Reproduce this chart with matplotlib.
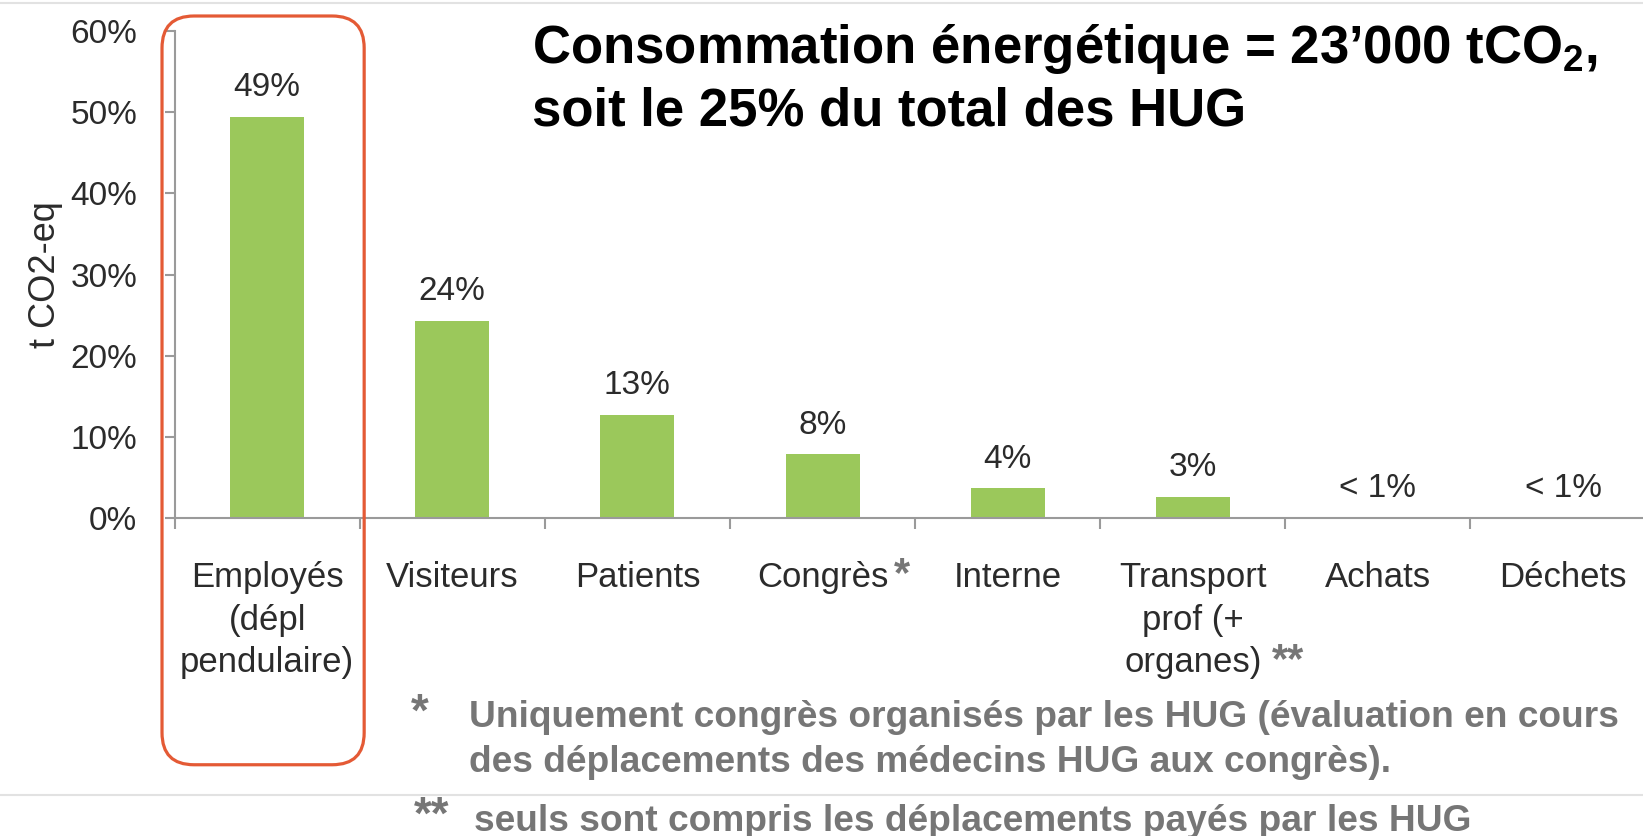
import numpy as np
import matplotlib
matplotlib.use("Agg")
import matplotlib.pyplot as plt
from matplotlib.patches import FancyBboxPatch
from matplotlib.lines import Line2D
from matplotlib.transforms import IdentityTransform

plt.rcParams['font.family'] = ['Liberation Sans', 'DejaVu Sans']
plt.rcParams['mathtext.fontset'] = 'custom'
plt.rcParams['mathtext.rm'] = 'Liberation Sans'
plt.rcParams['mathtext.bf'] = 'Liberation Sans:bold'

# données
categories = ["Employés\n(dépl\npendulaire)", "Visiteurs", "Patients", "Congrès",
              "Interne", "Transport\nprof (+\norganes)", "Achats", "Déchets"]
shares = [49.4, 24.3, 12.7, 7.8, 3.6, 2.6, 0, 0]
value_labels = ["49%", "24%", "13%", "8%", "4%", "3%", "< 1%", "< 1%"]
yticks = [0, 10, 20, 30, 40, 50, 60]
marks = {3: "*", 5: "**"}
highlight = 0

W, H = 1643, 836
GREEN = "#9BC85B"
AXIS = "#9a9a9a"
TXT = "#2b2b2b"
NOTE = "#767676"
RED = "#E45A35"

def fx(x):
    return x / W

def fy(y):
    return 1 - y / H

fig = plt.figure(figsize=(W / 100, H / 100), dpi=100)
ax = fig.add_axes([fx(174.6), fy(517.6), 1481 / W, (517.6 - 31.4) / H])

x = np.arange(len(categories))
ax.bar(x, shares, width=0.4, color=GREEN, zorder=2)
ax.set_xlim(-0.5, len(categories) - 0.5)
ax.set_ylim(0, 60)

for xi, v, lab in zip(x, shares, value_labels):
    ax.annotate(lab, (xi, v), xytext=(0, 15), textcoords="offset points",
                ha="center", va="baseline", fontsize=24, color=TXT)

ax.set_yticks(yticks)
ax.set_yticklabels([f"{t}%" for t in yticks])
ax.set_xticks(x)
ax.set_xticklabels(categories)
ax.set_xticks(np.arange(len(categories) + 1) - 0.5, minor=True)
ax.tick_params(axis="x", which="major", length=0, pad=31, labelsize=25,
               labelcolor=TXT)
ax.tick_params(axis="x", which="minor", length=8, width=1.5, color=AXIS,
               direction="out")
ax.tick_params(axis="y", length=7, width=1.5, color=AXIS, pad=20,
               labelsize=24, labelcolor=TXT)
for lab in ax.get_xticklabels():
    lab.set_linespacing(1.38)

for s in ["top", "right"]:
    ax.spines[s].set_visible(False)
for s in ["left", "bottom"]:
    ax.spines[s].set_color(AXIS)
    ax.spines[s].set_linewidth(1.5)

ax.set_ylabel("t CO2-eq", fontsize=26, color=TXT, labelpad=5)

# astérisques après les étiquettes
ticklabels = ax.get_xticklabels()
for i, m in marks.items():
    ax.annotate(m, xy=(1, 0), xycoords=ticklabels[i], xytext=(4, 5.5),
                textcoords="offset points", ha="left", va="baseline",
                fontsize=30, fontweight="bold", color=NOTE)

# cadre rouge autour de la première catégorie
fig.canvas.draw()
(x0, y0) = ax.transData.transform((highlight - 0.568, -30.5))
(x1, y1) = ax.transData.transform((highlight + 0.524, 61.9))
box = FancyBboxPatch((x0, y0), x1 - x0, y1 - y0,
                     boxstyle="round,pad=0,rounding_size=32",
                     transform=IdentityTransform(), fill=False,
                     edgecolor=RED, linewidth=2.3, clip_on=False, zorder=5)
fig.add_artist(box)

# titre
fig.text(fx(532), fy(63), "Consommation énergétique = 23’000 tCO$_\\mathbf{2}$,",
         fontsize=38, fontweight="bold", color="black", va="baseline")
fig.text(fx(532), fy(126), "soit le 25% du total des HUG",
         fontsize=38, fontweight="bold", color="black", va="baseline")

# notes
fig.text(fx(411), fy(726), "*", fontsize=33, fontweight="bold", color=NOTE,
         va="baseline")
fig.text(fx(469), fy(727), "Uniquement congrès organisés par les HUG (évaluation en cours",
         fontsize=26.7, fontweight="bold", color=NOTE, va="baseline")
fig.text(fx(469), fy(772), "des déplacements des médecins HUG aux congrès).",
         fontsize=26.7, fontweight="bold", color=NOTE, va="baseline")
fig.text(fx(414), fy(829), "**", fontsize=33, fontweight="bold", color=NOTE,
         va="baseline")
fig.text(fx(474), fy(831), "seuls sont compris les déplacements payés par les HUG",
         fontsize=26.7, fontweight="bold", color=NOTE, va="baseline")

# filets de la diapositive
fig.add_artist(Line2D([0, 1], [fy(3), fy(3)], color="#e2e2e2", lw=1.5,
                      transform=fig.transFigure))
fig.add_artist(Line2D([0, 1], [fy(795), fy(795)], color="#e2e2e2", lw=1.5,
                      transform=fig.transFigure, zorder=0))

fig.savefig("out.png", dpi=100)
